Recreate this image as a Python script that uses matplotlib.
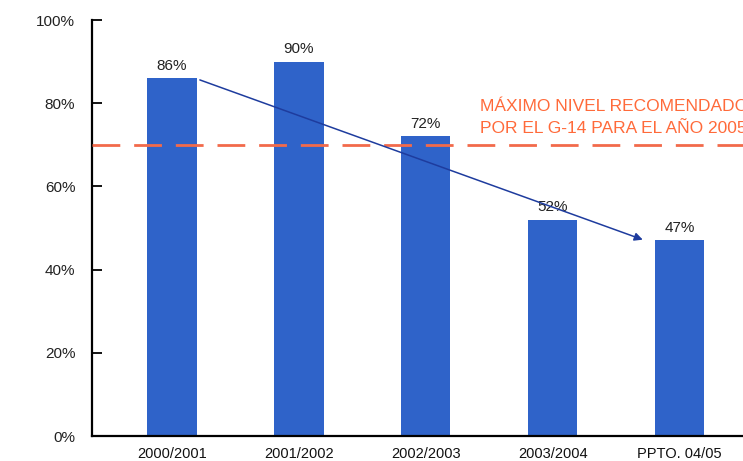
import numpy as np
import matplotlib
matplotlib.use('Agg')
import matplotlib.pyplot as plt

periodos = ['2000/2001', '2001/2002', '2002/2003', '2003/2004', 'PPTO. 04/05']
valores = [86, 90, 72, 52, 47]
nivel_g14 = 70
texto_g14 = 'MÁXIMO NIVEL RECOMENDADO\nPOR EL G-14 PARA EL AÑO 2005'

plt.rcParams['font.family'] = ['Liberation Sans', 'DejaVu Sans']

fig = plt.figure(figsize=(7.43, 4.61), dpi=100)
ax = fig.add_axes([0.1238, 0.0542, 0.8762, 0.9024])

x = np.arange(len(periodos))
ax.bar(x, valores, width=0.39, color='#2f63c9', zorder=2)

for xi, v in zip(x, valores):
    ax.text(xi, v + 1.3, f'{v}%', ha='center', va='bottom', fontsize=11, color='#222222', zorder=1)

# linea de referencia G-14 (el texto queda cortado en el borde como en el original)
ax.axhline(nivel_g14, color='#f26a4b', lw=2, dashes=(10, 5), zorder=3)
ax.text(2.43, 72.2, texto_g14, ha='left', va='bottom', fontsize=12.5,
        color='#ff6a3a', linespacing=1.55, clip_on=False)

ax.annotate('', xy=(3.71, 47.2), xytext=(0.22, 85.6),
            arrowprops=dict(arrowstyle='-|>', color='#1e3c9e', lw=1.1,
                            mutation_scale=12, shrinkA=0, shrinkB=0), zorder=4)

ax.set_xlim(-0.63, 4.5)
ax.set_ylim(0, 100)
ax.set_yticks([0, 20, 40, 60, 80, 100])
ax.set_yticklabels(['0%', '20%', '40%', '60%', '80%', '100%'], fontsize=11, color='#222222')
ax.set_xticks(x)
ax.set_xticklabels(periodos, fontsize=10.5, color='#111111')
ax.tick_params(axis='y', direction='in', length=7, width=1.3, pad=12)
ax.tick_params(axis='x', length=0, pad=8)

for s in ['top', 'right']:
    ax.spines[s].set_visible(False)
ax.spines['left'].set_linewidth(1.6)
ax.spines['bottom'].set_linewidth(1.6)

fig.savefig('out.png', dpi=100)
